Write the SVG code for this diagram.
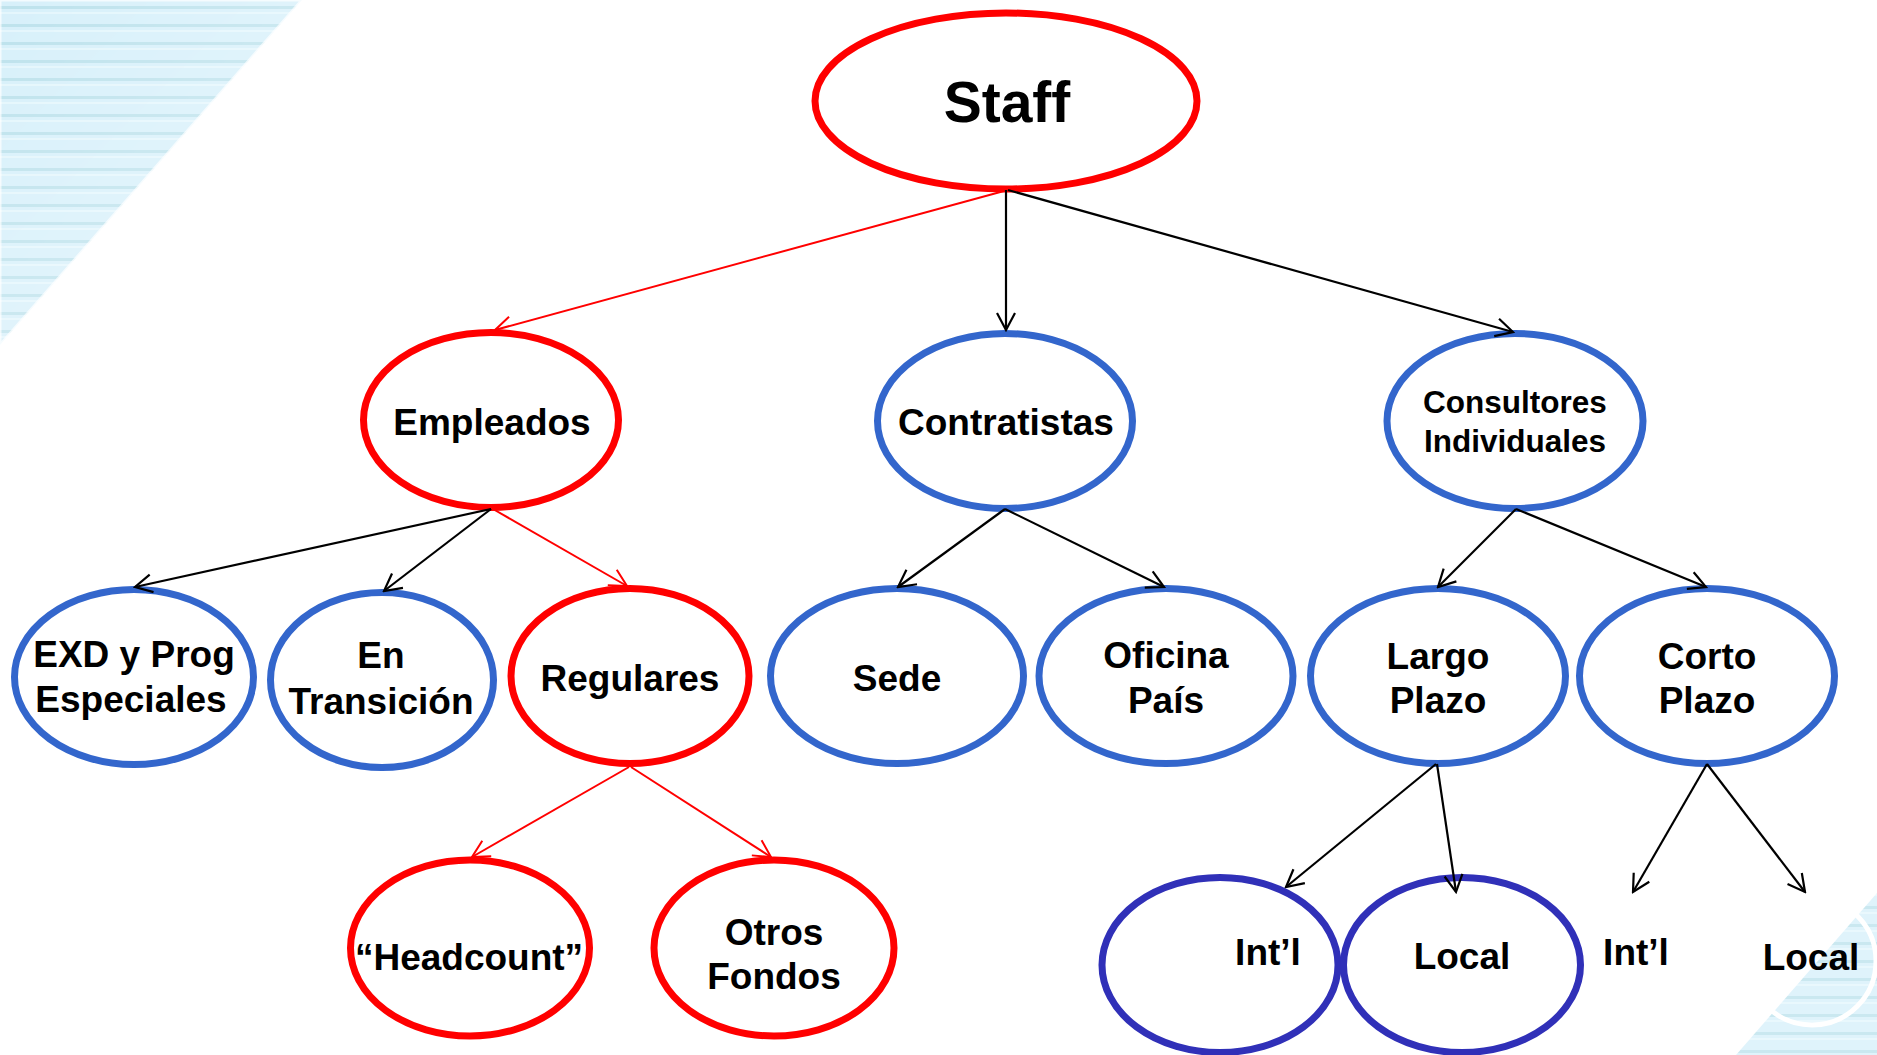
<svg xmlns="http://www.w3.org/2000/svg" width="1877" height="1055" viewBox="0 0 1877 1055">
  <style>
    .node { stroke-width: 7; fill: #ffffff; }
    .red { stroke: #ff0000; }
    .blue { stroke: #3366cc; }
    .navy { stroke: #3030b8; }
    text { font-family: "Liberation Sans", Arial, sans-serif; font-weight: bold; fill: #000; text-anchor: middle; }
    .t37 { font-size: 37px; }
    .link { fill: none; stroke-width: 2.2; }
    .link.k { stroke: #000; marker-end: url(#ah-k); }
    .link.r { stroke: #ff0000; stroke-width: 2; marker-end: url(#ah-r); }
  </style>
  <defs>
    <marker id="ah-k" viewBox="-20 -12 22 24" markerWidth="22" markerHeight="24" refX="0" refY="0" orient="auto" markerUnits="userSpaceOnUse">
      <path d="M-17,-9 L0,0 L-17,9" fill="none" stroke="#000" stroke-width="2.2"/>
    </marker>
    <marker id="ah-r" viewBox="-20 -12 22 24" markerWidth="22" markerHeight="24" refX="0" refY="0" orient="auto" markerUnits="userSpaceOnUse">
      <path d="M-17,-9 L0,0 L-17,9" fill="none" stroke="#ff0000" stroke-width="2"/>
    </marker>
    <pattern id="stripes" x="0" y="0" width="1877" height="18" patternUnits="userSpaceOnUse">
      <rect width="1877" height="18" fill="#d7f0fa"/>
      <rect y="6" width="1877" height="3" fill="#bde2ec"/>
      <rect y="12" width="1877" height="2" fill="#e4f6fc"/>
    </pattern>
    <linearGradient id="fadeTL" x1="0" y1="0" x2="1" y2="1">
      <stop offset="0" stop-color="#fff" stop-opacity="1"/>
      <stop offset="0.85" stop-color="#fff" stop-opacity="0.55"/>
      <stop offset="1" stop-color="#fff" stop-opacity="0.2"/>
    </linearGradient>
    <mask id="mTL">
      <rect width="400" height="400" fill="url(#fadeTL)"/>
    </mask>
  </defs>

  <!-- backdrop -->
  <rect width="1877" height="1055" fill="#ffffff"/>
  <polygon points="0,0 302,0 0,345" fill="url(#stripes)" mask="url(#mTL)"/>
  <polygon points="0,0 302,0 0,345" fill="none" stroke="#ffffff" stroke-width="3" opacity="0.7"/>
  <polygon points="1877,893 1877,1055 1736,1055" fill="url(#stripes)" opacity="0.8"/>
  <circle cx="1812" cy="961" r="64" fill="none" stroke="#ffffff" stroke-width="5"/>

  <!-- nodes -->
  <g id="staff">
    <ellipse class="node red" cx="1006" cy="101" rx="191" ry="88"/>
    <text x="1007" y="122" style="font-size:57px">Staff</text>
  </g>
  <g id="empleados">
    <ellipse class="node red" cx="491" cy="420" rx="127.5" ry="87.5"/>
    <text class="t37" x="492" y="435">Empleados</text>
  </g>
  <g id="contratistas">
    <ellipse class="node blue" cx="1005" cy="421" rx="127.5" ry="87.5"/>
    <text class="t37" x="1006" y="435">Contratistas</text>
  </g>
  <g id="consultores">
    <ellipse class="node blue" cx="1515" cy="421" rx="128" ry="87.5"/>
    <text x="1515" y="413" style="font-size:31.5px">Consultores</text>
    <text x="1515" y="452" style="font-size:31.5px">Individuales</text>
  </g>
  <g id="exd">
    <ellipse class="node blue" cx="134" cy="677" rx="119.5" ry="87.5"/>
    <text class="t37" x="134" y="667">EXD y Prog</text>
    <text class="t37" x="131" y="712">Especiales</text>
  </g>
  <g id="transicion">
    <ellipse class="node blue" cx="382" cy="680" rx="111.5" ry="87.5"/>
    <text class="t37" x="381" y="668">En</text>
    <text class="t37" x="381" y="714">Transición</text>
  </g>
  <g id="regulares">
    <ellipse class="node red" cx="630" cy="676" rx="119" ry="87.5"/>
    <text class="t37" x="630" y="691">Regulares</text>
  </g>
  <g id="sede">
    <ellipse class="node blue" cx="897" cy="676" rx="126.5" ry="87.5"/>
    <text class="t37" x="897" y="691">Sede</text>
  </g>
  <g id="oficina">
    <ellipse class="node blue" cx="1166" cy="676" rx="127" ry="87.5"/>
    <text class="t37" x="1166" y="668">Oficina</text>
    <text class="t37" x="1166" y="713">País</text>
  </g>
  <g id="largo">
    <ellipse class="node blue" cx="1438" cy="676" rx="127.5" ry="87.5"/>
    <text class="t37" x="1438" y="669">Largo</text>
    <text class="t37" x="1438" y="713">Plazo</text>
  </g>
  <g id="corto">
    <ellipse class="node blue" cx="1707" cy="676" rx="127.5" ry="87.5"/>
    <text class="t37" x="1707" y="669">Corto</text>
    <text class="t37" x="1707" y="713">Plazo</text>
  </g>
  <g id="headcount">
    <ellipse class="node red" cx="470" cy="948" rx="119.5" ry="88"/>
    <text class="t37" x="469" y="970">“Headcount”</text>
  </g>
  <g id="otros">
    <ellipse class="node red" cx="774" cy="948" rx="120" ry="88"/>
    <text class="t37" x="774" y="945">Otros</text>
    <text class="t37" x="774" y="989">Fondos</text>
  </g>
  <g id="largo-intl">
    <ellipse class="node navy" cx="1220" cy="965" rx="118" ry="87.5"/>
    <text class="t37" x="1268" y="965">Int’l</text>
  </g>
  <g id="largo-local">
    <ellipse class="node navy" cx="1462" cy="965" rx="118.5" ry="87.5"/>
    <text class="t37" x="1462" y="969">Local</text>
  </g>
  <g id="corto-intl">
    <text class="t37" x="1636" y="965">Int’l</text>
  </g>
  <g id="corto-local">
    <text class="t37" x="1811" y="970">Local</text>
  </g>

  <!-- connectors -->
  <g id="connectors">
    <line class="link r" x1="1004" y1="191" x2="495" y2="330"/>
    <line class="link k" x1="1006" y1="190" x2="1006" y2="330"/>
    <line class="link k" x1="1008" y1="190" x2="1513" y2="332"/>

    <line class="link k" x1="491" y1="509" x2="135" y2="587"/>
    <line class="link k" x1="491" y1="509" x2="384" y2="591"/>
    <line class="link r" x1="493" y1="509" x2="627" y2="586"/>

    <line class="link k" x1="1005" y1="509" x2="898" y2="587"/>
    <line class="link k" x1="1005" y1="509" x2="1164" y2="587"/>

    <line class="link k" x1="1516" y1="509" x2="1438" y2="587"/>
    <line class="link k" x1="1516" y1="509" x2="1706" y2="587"/>

    <line class="link r" x1="629" y1="767" x2="472" y2="857"/>
    <line class="link r" x1="631" y1="767" x2="771" y2="857"/>

    <line class="link k" x1="1436" y1="764" x2="1286" y2="887"/>
    <line class="link k" x1="1437" y1="764" x2="1456" y2="892"/>

    <line class="link k" x1="1707" y1="764" x2="1633" y2="892"/>
    <line class="link k" x1="1707" y1="764" x2="1805" y2="892"/>
  </g>
</svg>
